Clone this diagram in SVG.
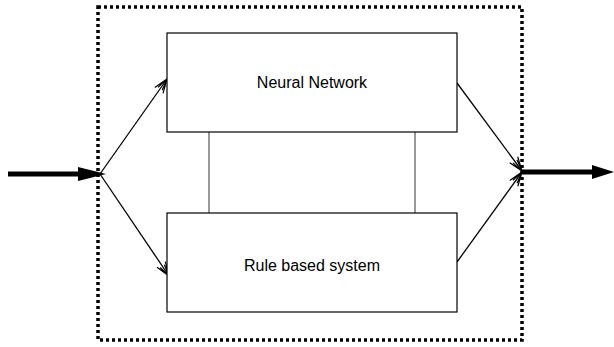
<svg xmlns="http://www.w3.org/2000/svg" width="614" height="347" viewBox="0 0 614 347">
<style>
.box{fill:#fff;stroke:#000;stroke-width:1.2}
.lbl{font-family:"Liberation Sans",Arial,sans-serif;font-size:16px;fill:#000;text-anchor:middle}
.thin{stroke:#000;stroke-width:1.3;fill:none;marker-end:url(#open)}
.thick{stroke:#000;stroke-width:5;fill:none}
.link{stroke:#777;stroke-width:1.5}
</style>
<defs>
<marker id="open" markerWidth="16" markerHeight="12" refX="15" refY="6" orient="auto" markerUnits="userSpaceOnUse">
<path d="M1,1 L15,6 L1,11 M3,3.5 L15,6 L3,8.5" fill="none" stroke="#000" stroke-width="1.2"/>
</marker>
</defs>
<rect x="98" y="7" width="424" height="333" fill="none" stroke="#000" stroke-width="3.5" stroke-dasharray="3 3"/>
<g id="connectors">
<line class="link" x1="209" y1="132" x2="209" y2="213"/>
<line class="link" x1="415" y1="132" x2="415" y2="213"/>
<line class="thick" x1="8" y1="174" x2="82" y2="174"/>
<polygon points="78,167 106,174 78,181" fill="#000"/>
<line class="thin" x1="100" y1="174" x2="167" y2="79"/>
<line class="thin" x1="100" y1="174" x2="169" y2="276"/>
<line class="thin" x1="457" y1="83" x2="522" y2="171"/>
<line class="thin" x1="457" y1="262" x2="522" y2="172"/>
<line class="thick" x1="522" y1="172" x2="596" y2="172"/>
<polygon points="592,165 614,172 592,179" fill="#000"/>
</g>
<g id="nn">
<rect class="box" x="167" y="33" width="290" height="99"/>
<text class="lbl" x="312" y="88">Neural Network</text>
</g>
<g id="rbs">
<rect class="box" x="167" y="213" width="290" height="99"/>
<text class="lbl" x="312" y="271">Rule based system</text>
</g>
</svg>
